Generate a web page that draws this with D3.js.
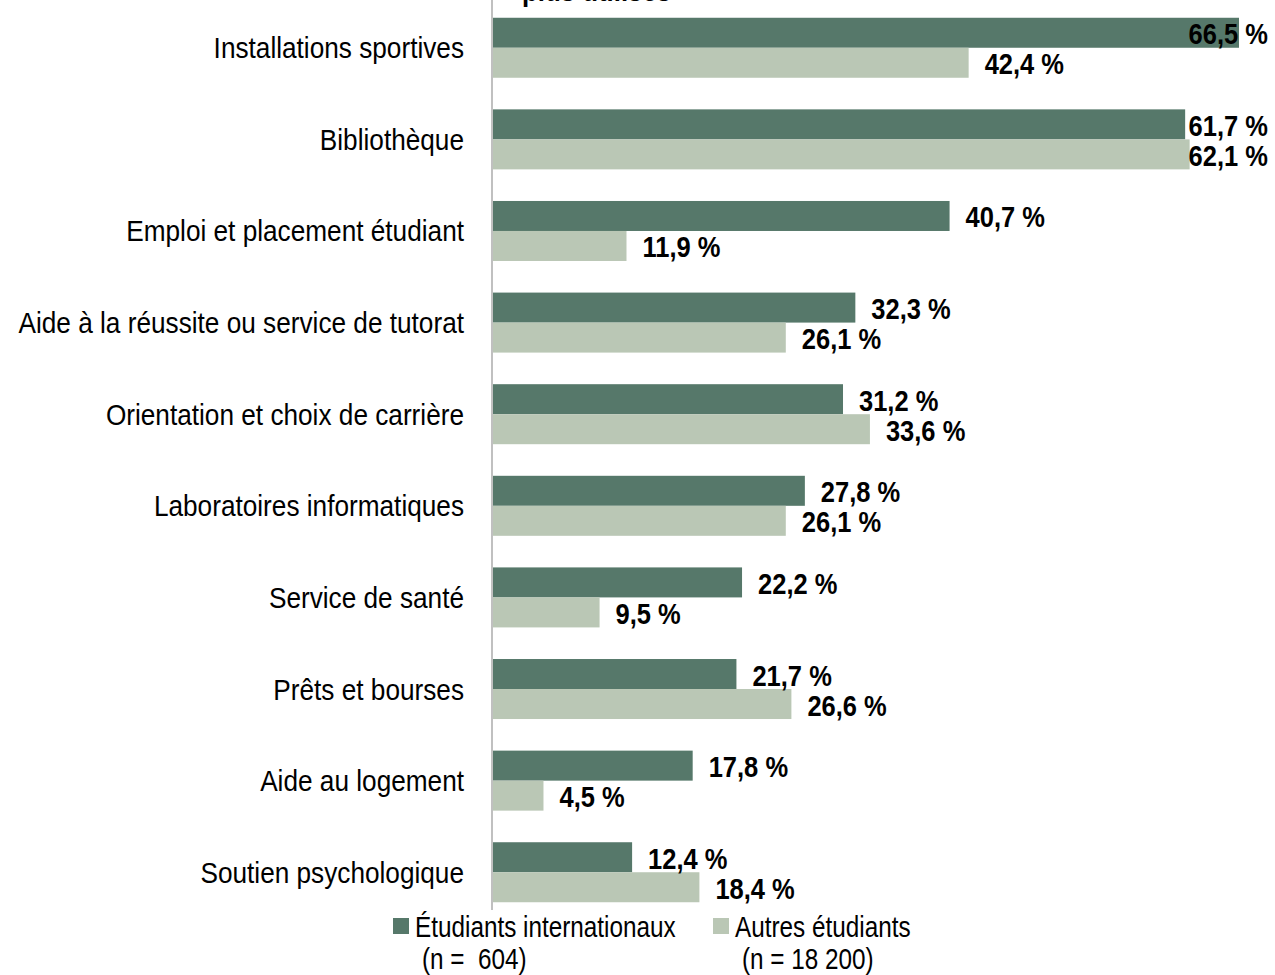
<!DOCTYPE html>
<html>
<head>
<meta charset="utf-8">
<script src="https://cdn.jsdelivr.net/npm/d3@7"></script>
<style>
  body { margin: 0; background: #fff; }
  svg { display: block; }
  text { font-family: "Liberation Sans Narrow", "Arial Narrow", "Liberation Sans", sans-serif; fill: #000; white-space: pre; }
</style>
</head>
<body>
<svg></svg>
<script>
var width = 1275;
var height = 975;

var categories = [
   'Installations sportives',
   'Bibliothèque',
   'Emploi et placement étudiant',
   'Aide à la réussite ou service de tutorat',
   'Orientation et choix de carrière',
   'Laboratoires informatiques',
   'Service de santé',
   'Prêts et bourses',
   'Aide au logement',
   'Soutien psychologique'
];

var internationaux = [66.5, 61.7, 40.7, 32.3, 31.2, 27.8, 22.2, 21.7, 17.8, 12.4];
var autres = [42.4, 62.1, 11.9, 26.1, 33.6, 26.1, 9.5, 26.6, 4.5, 18.4];

var seriesNames = ['Étudiants internationaux', 'Autres étudiants'];
var seriesN = ['(n =  604)', '(n = 18 200)'];
var colors = ['#56786a', '#bac7b5'];

var svg = d3.select('svg')
   .attr('width', width)
   .attr('height', height)
;

var x = d3.scaleLinear()
   .domain([0, 66.5])
   .range([493, 1239])
;

var y = d3.scaleBand()
   .domain(categories)
   .range([2, 918])
   .paddingInner(0.345)
   .paddingOuter(0.172)
;

var sub = d3.scaleBand()
   .domain([0, 1])
   .range([0, y.bandwidth()])
;

var fmt = function(v) { return d3.format('.1f')(v).replace('.', ',') + ' %'; };

// squeeze text horizontally to get the narrow font look
function narrow(k) {
   return function(sel) {
      sel.each(function() {
         var w = this.getComputedTextLength();
         d3.select(this)
            .attr('textLength', w * k)
            .attr('lengthAdjust', 'spacingAndGlyphs');
      });
   };
}

// cut-off title at the very top
svg.append('text')
   .attr('x', 522)
   .attr('y', 1)
   .style('font-size', '30px')
   .style('font-weight', 'bold')
   .text('plus utilisés')
   .call(narrow(0.86));

var rows = categories.map(function(c, i) {
   return { cat: c, vals: [internationaux[i], autres[i]] };
});

var g = svg.selectAll('g.row')
   .data(rows)
   .enter()
   .append('g')
   .attr('class', 'row')
   .attr('transform', function(d) { return 'translate(0,' + y(d.cat) + ')'; })
;

g.selectAll('rect')
   .data(function(d) { return d.vals; })
   .enter()
   .append('rect')
   .attr('x', x(0))
   .attr('y', function(d, i) { return sub(i); })
   .attr('width', function(d) { return x(d) - x(0); })
   .attr('height', sub.bandwidth())
   .attr('fill', function(d, i) { return colors[i]; })
;

g.selectAll('text.val')
   .data(function(d) { return d.vals; })
   .enter()
   .append('text')
   .attr('class', 'val')
   .attr('x', function(d) { return x(d) + 16; })
   .attr('y', function(d, i) { return sub(i) + sub.bandwidth() / 2 + 1; })
   .attr('dominant-baseline', 'central')
   .style('font-size', '30px')
   .style('font-weight', 'bold')
   .text(fmt)
   .call(narrow(0.85))
   .each(function() {
      var w = +d3.select(this).attr('textLength');
      var x0 = +d3.select(this).attr('x');
      if (x0 + w > 1268) d3.select(this).attr('x', 1268 - w);
   })
;

g.append('text')
   .attr('x', 464)
   .attr('y', y.bandwidth() / 2)
   .attr('text-anchor', 'end')
   .attr('dominant-baseline', 'central')
   .style('font-size', '30px')
   .text(function(d) { return d.cat; })
   .call(narrow(0.873))
;

// axis line
svg.append('line')
   .attr('x1', x(0) - 1)
   .attr('x2', x(0) - 1)
   .attr('y1', 0)
   .attr('y2', 910)
   .attr('stroke', '#c0c0c0')
   .attr('stroke-width', 2)
;

// legend
var legendX = [393, 713];
var legend = svg.selectAll('g.legend')
   .data(seriesNames)
   .enter()
   .append('g')
   .attr('class', 'legend')
   .attr('transform', function(d, i) { return 'translate(' + legendX[i] + ',0)'; })
;

legend.append('rect')
   .attr('x', 0)
   .attr('y', 918)
   .attr('width', 16)
   .attr('height', 16)
   .attr('fill', function(d, i) { return colors[i]; })
;

legend.append('text')
   .attr('x', 22)
   .attr('y', 937)
   .style('font-size', '30px')
   .text(function(d) { return d; })
   .call(narrow(0.81))
;

legend.append('text')
   .attr('x', 29)
   .attr('y', 969)
   .style('font-size', '30px')
   .text(function(d, i) { return seriesN[i]; })
   .call(narrow(0.81))
;
</script>
</body>
</html>
